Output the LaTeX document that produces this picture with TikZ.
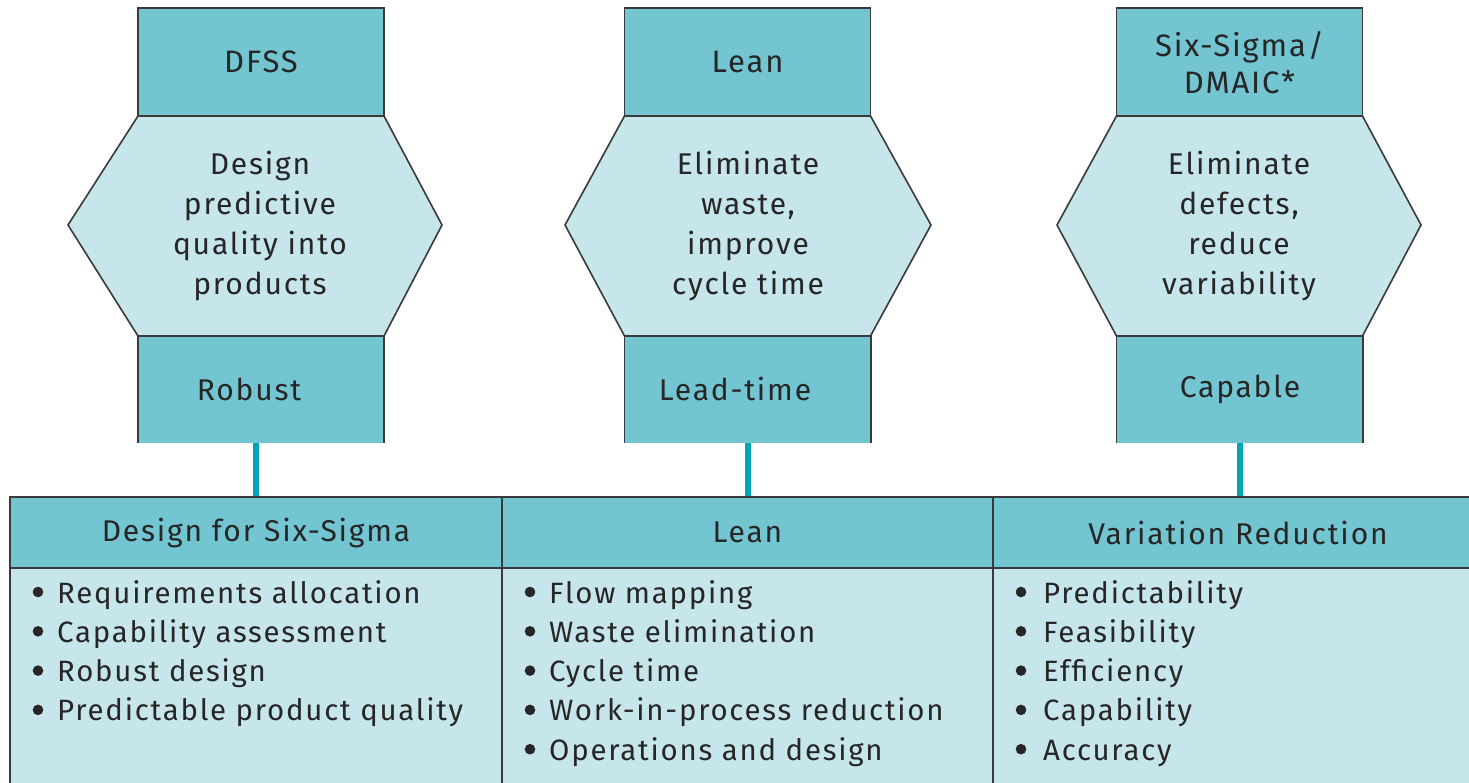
\documentclass[tikz,border=0pt]{standalone}
\usepackage{fontspec}
\setmainfont{Fira Sans}[LetterSpace=6]
\definecolor{tealdark}{HTML}{72C5D1}
\definecolor{teallight}{HTML}{C7E6EB}
\definecolor{conncol}{HTML}{00A5B5}
\definecolor{edgecol}{HTML}{3A3A3A}
\definecolor{inkcol}{HTML}{262626}
\begin{document}
\begin{tikzpicture}[x=1pt,y=-1pt,
  txt/.style={font=\fontsize{30}{40}\selectfont, text=inkcol, align=center, inner sep=0pt},
  toptxt/.style={font=\fontsize{31}{37}\selectfont, text=inkcol, align=center, inner sep=0pt},
  topbox/.style={fill=tealdark, draw=edgecol, line width=1.6pt, inner sep=0pt, minimum width=246pt, minimum height=108pt},
  botbox/.style={fill=tealdark, draw=none, inner sep=0pt, minimum width=246pt, minimum height=107pt},
  hexshape/.style={fill=teallight, draw=edgecol, line width=1.6pt, line join=miter},
  edgeline/.style={draw=edgecol, line width=1.6pt},
  hdrcell/.style={fill=tealdark, draw=edgecol, line width=1.6pt, inner sep=0pt, minimum height=71pt, font=\fontsize{30}{40}\selectfont, text=inkcol},
  bodycell/.style={fill=teallight, draw=edgecol, line width=1.6pt, inner sep=0pt, minimum height=222pt},
  itemtxt/.style={font=\fontsize{29.4}{40}\selectfont, text=inkcol, anchor=base west, inner sep=0pt},
  bulletdot/.style={fill=inkcol},
  connector/.style={draw=conncol, line width=6pt}
]
\useasboundingbox (0,0) rectangle (1469,783);
\fill[white] (0,0) rectangle (1469,783);

% ---------- Column 1 ----------
\node[topbox] (t1) at (261,62) {};
\node[toptxt] (tl1) at (261,62) {DFSS};
\path[hexshape] (138,116) -- (384,116) -- (442,225) -- (384,336) -- (138,336) -- (68,225) -- cycle;
\node[txt] (h1) at (260,226) {Design\\predictive\\quality into\\products};
\node[botbox] (b1) at (261,389.5) {};
\draw[edgeline] (b1.south west) -- (b1.north west) -- (b1.north east) -- (b1.south east);
\node[txt] (bl1) at (249,389) {Robust};

% ---------- Column 2 ----------
\node[topbox] (t2) at (747.5,62) {};
\node[toptxt] (tl2) at (747.5,62) {Lean};
\path[hexshape] (624.5,116) -- (870.5,116) -- (931,225) -- (870.5,336) -- (624.5,336) -- (565,225) -- cycle;
\node[txt] (h2) at (748,226) {Eliminate\\waste,\\improve\\cycle time};
\node[botbox] (b2) at (747.5,389.5) {};
\draw[edgeline] (b2.south west) -- (b2.north west) -- (b2.north east) -- (b2.south east);
\node[txt] (bl2) at (735,389) {Lead-time};

% ---------- Column 3 ----------
\node[topbox] (t3) at (1239.5,62) {};
\node[toptxt] (tl3) at (1239.5,63) {Six-Sigma/\\DMAIC*};
\path[hexshape] (1116.5,116) -- (1362.5,116) -- (1421,225) -- (1362.5,336) -- (1116.5,336) -- (1057,225) -- cycle;
\node[txt] (h3) at (1239,226) {Eliminate\\defects,\\reduce\\variability};
\node[botbox] (b3) at (1239.5,389.5) {};
\draw[edgeline] (b3.south west) -- (b3.north west) -- (b3.north east) -- (b3.south east);
\node[txt] (bl3) at (1240,389) {Capable};

% ---------- Table ----------
\node[bodycell, minimum width=492pt] (bd1) at (256,679) {};
\node[bodycell, minimum width=491pt] (bd2) at (747.5,679) {};
\node[bodycell, minimum width=490pt] (bd3) at (1238,679) {};
\node[hdrcell, minimum width=492pt] (hd1) at (256,532.5) {Design for Six-Sigma};
\node[hdrcell, minimum width=491pt] (hd2) at (747.5,532.5) {Lean};
\node[hdrcell, minimum width=490pt] (hd3) at (1238,532.5) {Variation Reduction};

% ---------- Connectors ----------
\draw[connector] (hd1.north) -- (hd1.north |- b1.south);
\draw[connector] (hd2.north) -- (hd2.north |- b2.south);
\draw[connector] (b3.south) -- (b3.south |- hd3.north);

% ---------- Items ----------
\foreach \t [count=\i] in {Requirements allocation, Capability assessment, Robust design, Predictable product quality}{
  \node[itemtxt] (ia\i) at (57,{603+39.3*(\i-1)}) {\t};
  \fill[bulletdot] (38,{592+39.3*(\i-1)}) circle (5.3);
}
\foreach \t [count=\i] in {Flow mapping, Waste elimination, Cycle time, Work-in-process reduction, Operations and design}{
  \node[itemtxt] (ib\i) at (549,{603+39.3*(\i-1)}) {\t};
  \fill[bulletdot] (530,{592+39.3*(\i-1)}) circle (5.3);
}
\foreach \t [count=\i] in {Predictability, Feasibility, Efficiency, Capability, Accuracy}{
  \node[itemtxt] (ic\i) at (1043,{603+39.3*(\i-1)}) {\t};
  \fill[bulletdot] (1021,{592+39.3*(\i-1)}) circle (5.3);
}
\end{tikzpicture}
\end{document}
